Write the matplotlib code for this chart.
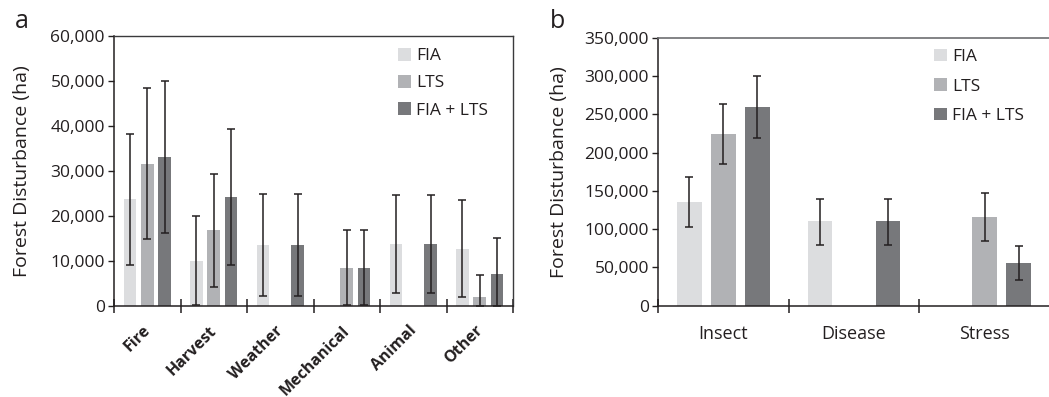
import matplotlib
matplotlib.use("Agg")
import matplotlib.pyplot as plt
import matplotlib.transforms as mtrans
import numpy as np
from matplotlib.ticker import FuncFormatter, FixedLocator

plt.rcParams['font.family'] = ['Open Sans', 'DejaVu Sans']

# ---------------- data: panel a ----------------
cats_a = ["Fire", "Harvest", "Weather", "Mechanical", "Animal", "Other"]
fia_a = [23800, 10100, 13500, 0, 13800, 12700]
fia_a_hi = [38300, 20100, 24900, 0, 24700, 23600]
fia_a_lo = [9200, 300, 2300, 0, 3000, 1900]
lts_a = [31600, 16800, 0, 8500, 0, 2100]
lts_a_hi = [48400, 29300, 0, 16900, 0, 7000]
lts_a_lo = [15000, 4300, 0, 300, 0, 0]
both_a = [33000, 24200, 13500, 8500, 13800, 7100]
both_a_hi = [50000, 39400, 24900, 16900, 24700, 15200]
both_a_lo = [16200, 9200, 2300, 300, 3000, 0]
yticks_a = [0, 10000, 20000, 30000, 40000, 50000, 60000]

# ---------------- data: panel b ----------------
cats_b = ["Insect", "Disease", "Stress"]
fia_b = [135800, 110000, 0]
fia_b_hi = [168500, 139700, 0]
fia_b_lo = [103200, 79700, 0]
lts_b = [223800, 0, 115400]
lts_b_hi = [263000, 0, 146700]
lts_b_lo = [184600, 0, 84900]
both_b = [259000, 110000, 55700]
both_b_hi = [300000, 139700, 78400]
both_b_lo = [218500, 79700, 33500]
yticks_b = [0, 50000, 100000, 150000, 200000, 250000, 300000, 350000]

series_names = ["FIA", "LTS", "FIA + LTS"]
colors = ["#dcdddf", "#b1b2b5", "#77787b"]
txt = "#231f20"

fig = plt.figure(figsize=(10.49, 3.97), dpi=100)
ax_a = fig.add_axes([114/1049, 1-306/397, (513-114)/1049, (306-36)/397])
ax_b = fig.add_axes([658/1049, 1-305.7/397, (1050-658)/1049, (305.7-37.7)/397])

fmt = FuncFormatter(lambda v, p: f"{int(v):,}")


def draw(ax, cats, vals, his, los, ymax, yticks, labelpad, leg_anchor, leg_space):
    x = np.arange(len(cats))
    offs = [-0.26, 0.0, 0.26]
    w = 0.19
    for i, (v, hi, lo) in enumerate(zip(vals, his, los)):
        v = np.array(v, float)
        hi = np.array(hi, float)
        lo = np.array(lo, float)
        ax.bar(x + offs[i], v, width=w, color=colors[i], label=series_names[i], zorder=2)
        m = v > 0
        yerr = np.vstack([v[m] - lo[m], hi[m] - v[m]])
        ax.errorbar(x[m] + offs[i], v[m], yerr=yerr, fmt='none', ecolor=txt,
                    elinewidth=1.1, capsize=3.2, capthick=1.1, zorder=3)
    ax.set_xlim(-0.5, len(cats) - 0.5)
    ax.set_ylim(0, ymax)
    ax.set_yticks(yticks)
    ax.yaxis.set_major_formatter(fmt)
    ax.set_xticks(x)
    ax.xaxis.set_minor_locator(FixedLocator(np.arange(-0.5, len(cats), 1.0)))
    ax.tick_params(axis='x', which='minor', direction='inout', length=10, width=1.1, color=txt)
    ax.tick_params(axis='y', direction='out', length=4.5, width=1, color=txt,
                   labelsize=12.5, labelcolor=txt, pad=2)
    for s in ['left', 'bottom']:
        ax.spines[s].set_color(txt)
        ax.spines[s].set_linewidth(1.1)
    ax.set_ylabel("Forest Disturbance (ha)", fontsize=14, color=txt, labelpad=labelpad)
    leg = ax.legend(loc='upper left', bbox_to_anchor=leg_anchor, frameon=False,
                    fontsize=12.5, handlelength=0.75, handleheight=0.75,
                    handletextpad=0.3, labelspacing=leg_space,
                    borderaxespad=0.0, borderpad=0.0, labelcolor=txt)
    return leg


draw(ax_a, cats_a, [fia_a, lts_a, both_a], [fia_a_hi, lts_a_hi, both_a_hi],
     [fia_a_lo, lts_a_lo, both_a_lo], 60000, yticks_a, 14, (0.712, 0.956), 0.62)
ax_a.set_xticklabels(cats_a, rotation=45, ha='right', rotation_mode='anchor',
                     fontsize=11.5, fontweight='bold', color=txt)
ax_a.tick_params(axis='x', which='major', length=0, pad=12)
shift = mtrans.ScaledTranslation(-5/100, 0, fig.dpi_scale_trans)
for lab in ax_a.get_xticklabels():
    lab.set_transform(lab.get_transform() + shift)
for s in ['top', 'right']:
    ax_a.spines[s].set_color("#3a3a3c")
    ax_a.spines[s].set_linewidth(1.0)

draw(ax_b, cats_b, [fia_b, lts_b, both_b], [fia_b_hi, lts_b_hi, both_b_hi],
     [fia_b_lo, lts_b_lo, both_b_lo], 350000, yticks_b, 12, (0.704, 0.959), 0.75)
ax_b.set_xticklabels(cats_b, fontsize=13, color=txt)
ax_b.tick_params(axis='x', which='major', length=0, pad=14)
ax_b.spines['top'].set_color("#6d6e71")
ax_b.spines['top'].set_linewidth(1.2)
ax_b.spines['right'].set_visible(False)

fig.text(22/1049, 1-22/397, "a", fontsize=18, color=txt, ha='center', va='center')
fig.text(558/1049, 1-22/397, "b", fontsize=18, color=txt, ha='center', va='center')

fig.savefig("out.png", dpi=100)
